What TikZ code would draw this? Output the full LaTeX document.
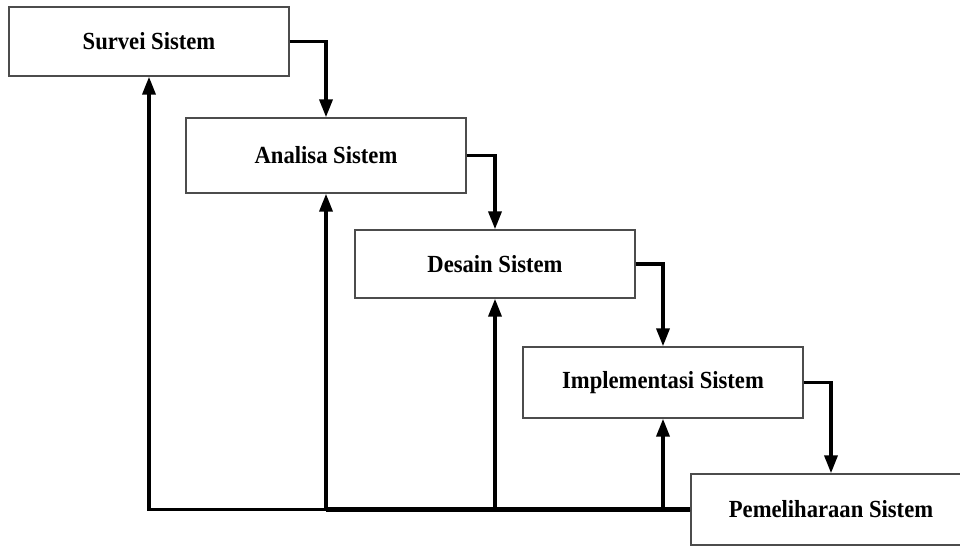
\documentclass[tikz,border=0pt]{standalone}
\usepackage{fontspec}
\setmainfont{Liberation Serif}[FakeStretch=0.92]
\usetikzlibrary{arrows.meta}
\tikzset{
  phase/.style={draw=black!70, line width=0.8pt, fill=white, minimum width=5.6cm,
    font=\fontsize{14}{16}\selectfont\bfseries},
  flow/.style={line width=2pt, -{Triangle[length=0.36cm, width=0.26cm]}},
}
\begin{document}
\begin{tikzpicture}[x=0.02cm, y=-0.02cm]
\useasboundingbox (0,0) rectangle (960,546);
\clip (0,0) rectangle (960,546);
\node[phase, minimum height=1.38cm] (survei) at (149,41.5) {Survei Sistem};
\node[phase, minimum height=1.5cm] (analisa) at (326,155.5) {Analisa Sistem};
\node[phase, minimum height=1.36cm] (desain) at (495,264) {Desain Sistem};
\node[phase, minimum height=1.42cm] (impl) at (663,382.5) {Implementasi Sistem};
\node[phase, minimum height=1.42cm] (pemel) at (831,509.5) {Pemeliharaan Sistem};
% alur maju
\draw[flow] (survei.east) -| (analisa.north);
\draw[flow] (analisa.east) -| (desain.north);
\draw[flow] (desain.east) -| (impl.north);
\draw[flow] (impl.east) -| (pemel.north);
% alur balik
\draw[flow] (pemel.west) -| (survei.south);
\draw[flow] (pemel.west) -| (analisa.south);
\draw[flow] (pemel.west) -| (desain.south);
\draw[flow] (pemel.west) -| (impl.south);
\draw[line width=2.8pt] (pemel.west) -- (analisa.south |- pemel.west);
\end{tikzpicture}
\end{document}
